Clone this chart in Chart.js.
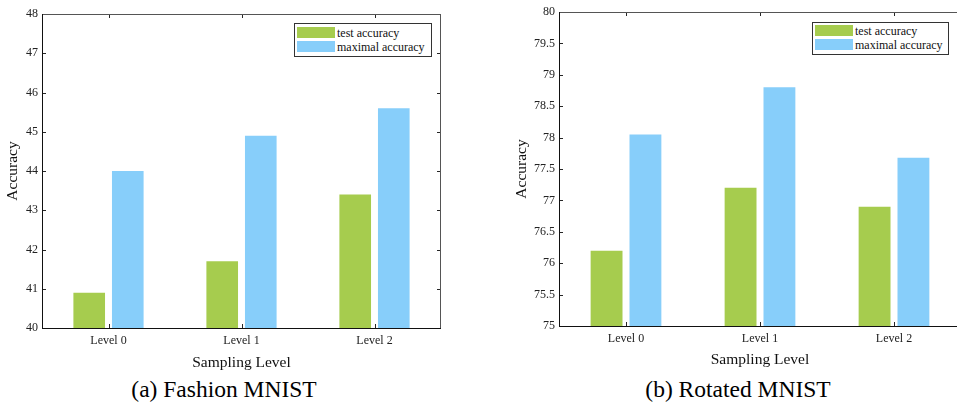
<!DOCTYPE html>
<html>
<head>
<meta charset="utf-8">
<script src="https://cdn.jsdelivr.net/npm/chart.js@4/dist/chart.umd.min.js"></script>
<style>
    body { margin: 0; background: #fff; width: 957px; height: 402px; overflow: hidden; position: relative; }
    canvas { position: absolute; top: 0; }
    .legend { position: absolute; border: 1px solid #333; background: #fff; box-sizing: border-box; }
    .sw { position: absolute; left: 2px; width: 38px; height: 11px; }
    .lab { position: absolute; left: 42px; font-family: 'Liberation Serif', 'Times New Roman', serif; font-size: 12px; line-height: 14px; color: #111; white-space: nowrap; }
    .cap { position: absolute; top: 376px; width: 400px; text-align: center; font-family: 'Liberation Serif', 'Times New Roman', serif; font-size: 23.5px; line-height: 26px; color: #000; }
</style>
</head>
<body>
<canvas id="chart1" width="480" height="372" style="left:0px"></canvas>
<canvas id="chart2" width="482" height="369" style="left:480px"></canvas>

<div class="legend" style="left:294px; top:23px; width:138px; height:34px">
    <div class="sw" style="top:3px; background:#a6cc4e"></div>
    <div class="lab" style="top:2px">test accuracy</div>
    <div class="sw" style="top:17px; background:#87cefa"></div>
    <div class="lab" style="top:16px">maximal accuracy</div>
</div>
<div class="legend" style="left:812px; top:22px; width:137px; height:33px">
    <div class="sw" style="top:2px; background:#a6cc4e"></div>
    <div class="lab" style="top:1px">test accuracy</div>
    <div class="sw" style="top:16px; background:#87cefa"></div>
    <div class="lab" style="top:15px">maximal accuracy</div>
</div>

<div class="cap" style="left:24px">(a) Fashion MNIST</div>
<div class="cap" style="left:538px">(b) Rotated MNIST</div>

<script>
var levels = ['Level 0', 'Level 1', 'Level 2'];

// (a) Fashion MNIST
var fashionTest = [40.9, 41.7, 43.4];
var fashionMax = [44.0, 44.9, 45.6];

// (b) Rotated MNIST
var rotatedTest = [76.2, 77.2, 76.9];
var rotatedMax = [78.05, 78.8, 77.68];

var green = '#a6cc4e';
var blue = '#87cefa';
var serif = "'Liberation Serif', 'Times New Roman', serif";

// matlab style box with inward ticks
var boxPlugin = {
    id: 'box',
    afterDatasetsDraw: function (chart) {
        var ctx = chart.ctx;
        var a = chart.chartArea;
        var x = chart.scales.x;
        var y = chart.scales.y;
        var t = 4;
        ctx.save();
        ctx.lineWidth = 1;
        ctx.strokeStyle = '#262626';
        ctx.beginPath();
        for (var i = 0; i < x.ticks.length; i++) {
            var px = Math.round(x.getPixelForTick(i)) + 0.5;
            ctx.moveTo(px, a.bottom); ctx.lineTo(px, a.bottom - t);
            ctx.moveTo(px, a.top); ctx.lineTo(px, a.top + t);
        }
        for (var j = 0; j < y.ticks.length; j++) {
            var py = Math.round(y.getPixelForTick(j)) + 0.5;
            ctx.moveTo(a.left, py); ctx.lineTo(a.left + t, py);
            ctx.moveTo(a.right, py); ctx.lineTo(a.right - t, py);
        }
        ctx.stroke();
        // top and right lines are a bit lighter
        ctx.strokeStyle = '#555';
        ctx.beginPath();
        ctx.moveTo(a.left, a.top + 0.5); ctx.lineTo(a.right, a.top + 0.5);
        ctx.moveTo(a.right - 0.5, a.top); ctx.lineTo(a.right - 0.5, a.bottom);
        ctx.stroke();
        ctx.strokeStyle = '#111';
        ctx.beginPath();
        ctx.moveTo(a.left + 0.5, a.top); ctx.lineTo(a.left + 0.5, a.bottom);
        ctx.moveTo(a.left, a.bottom + 0.5); ctx.lineTo(a.right, a.bottom + 0.5);
        ctx.stroke();
        ctx.restore();
    }
};

function makeChart(id, testData, maxData, yMin, yMax, yStep, opts) {
    return new Chart(document.getElementById(id), {
        type: 'bar',
        data: {
            labels: levels,
            datasets: [{
                label: 'test accuracy',
                data: testData,
                backgroundColor: green,
                categoryPercentage: 0.58,
                barPercentage: 0.82
            }, {
                label: 'maximal accuracy',
                data: maxData,
                backgroundColor: blue,
                categoryPercentage: 0.58,
                barPercentage: 0.82
            }]
        },
        options: {
            responsive: false,
            animation: false,
            layout: { padding: { top: opts.top, right: opts.right, left: 0, bottom: 0 } },
            plugins: { legend: { display: false }, tooltip: { enabled: false } },
            scales: {
                x: {
                    grid: { display: false, drawTicks: false },
                    border: { display: false },
                    ticks: { font: { family: serif, size: 12 }, color: '#222', padding: 6, maxRotation: 0 },
                    title: { display: true, text: 'Sampling Level', font: { family: serif, size: 15.5 }, color: '#111', padding: { top: 4, bottom: 0 } },
                    afterFit: function (s) { s.height = opts.xh; }
                },
                y: {
                    min: yMin,
                    max: yMax,
                    grid: { display: false, drawTicks: false },
                    border: { display: false },
                    ticks: {
                        stepSize: yStep,
                        font: { family: serif, size: 12 },
                        color: '#222',
                        padding: 4,
                        callback: function (v) { return String(Math.round(v * 10) / 10); }
                    },
                    title: { display: true, text: 'Accuracy', font: { family: serif, size: 15.5 }, color: '#111', padding: { top: opts.ytp, bottom: 0 } },
                    afterFit: function (s) { s.width = opts.yw; }
                }
            }
        },
        plugins: [boxPlugin]
    });
}

makeChart('chart1', fashionTest, fashionMax, 40, 48, 1, { top: 14, right: 39, xh: 44, yw: 42, ytp: 4 });
makeChart('chart2', rotatedTest, rotatedMax, 75, 80, 0.5, { top: 12, right: 1, xh: 43, yw: 79, ytp: 33 });
</script>
</body>
</html>
